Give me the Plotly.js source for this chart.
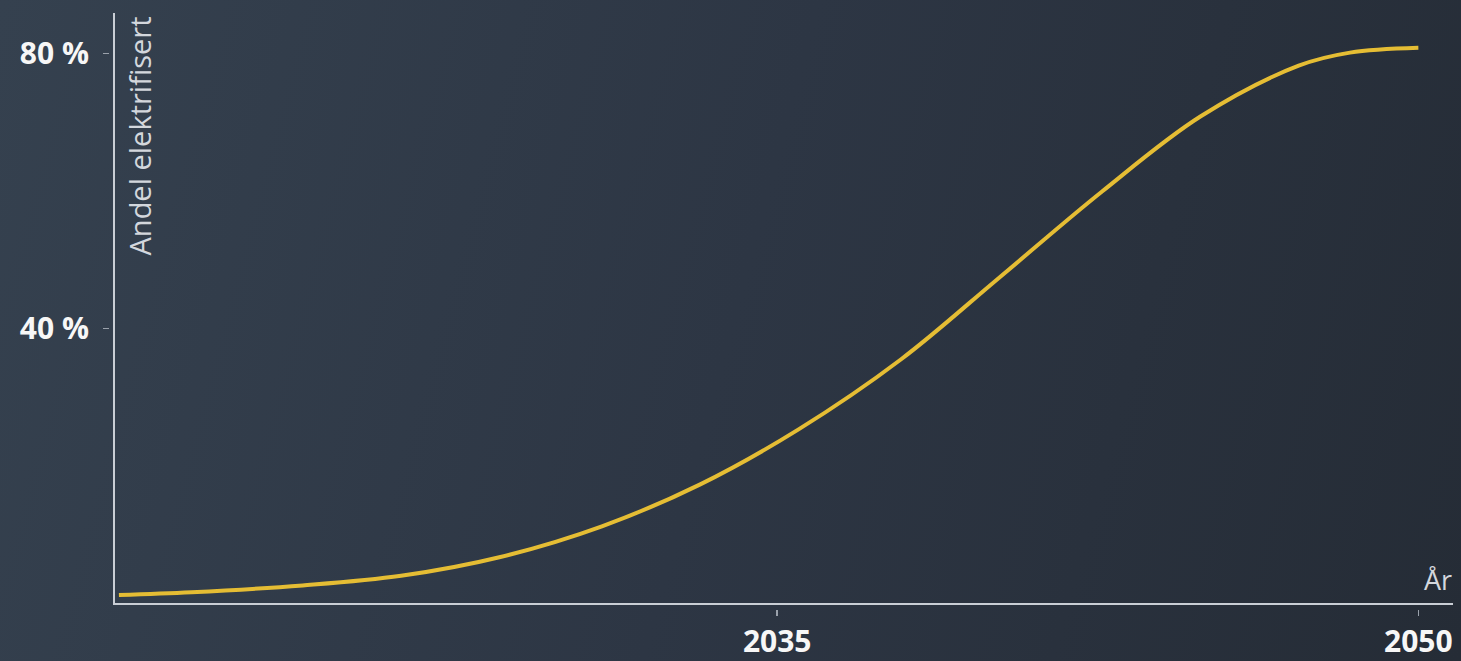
<!DOCTYPE html>
<html>
<head>
<meta charset="utf-8">
<script src="https://cdn.plot.ly/plotly-3.0.1.min.js"></script>
<style>
  html, body { margin: 0; padding: 0; width: 1461px; height: 661px; overflow: hidden;
    background: linear-gradient(105deg, #35414f 0%, #2d3644 50%, #252c36 100%); }
  #chart { width: 1461px; height: 661px; }
</style>
</head>
<body>
<div id="chart"></div>
<script>
// Data
const years = [2019.6, 2021.3, 2023.9, 2026.2, 2028.5, 2030.9, 2033.2, 2035.5, 2037.9, 2040.2, 2042.6, 2044.9, 2047.2, 2048.4, 2050];
const share = [1.2, 1.6, 2.6, 4.0, 6.7, 11.2, 17.3, 25.3, 35.5, 47.4, 59.9, 70.8, 78.2, 80.1, 80.8];
const xTickVals = [2035, 2050];
const xTickText = ['2035', '2050'];
const yTickVals = [40, 80];
const yTickText = ['40 %', '80 %'];
const yTitle = 'Andel elektrifisert';
const xTitle = 'År';

const xRange = [2019.52, 2050.81];
const yRange = [0, 85.86];

const axisColor = '#c9ced5';
const tickColor = '#9aa1ab';
const labelFont = { family: 'Open Sans, sans-serif', size: 30, color: '#f7f7f7', weight: 'bold' };
const titleFont = { family: 'Open Sans, sans-serif', size: 29, color: '#d3d7dd' };

const traces = [
  { x: years, y: share, type: 'scatter', mode: 'lines', xaxis: 'x', yaxis: 'y',
    line: { color: '#e5bd34', width: 4, shape: 'spline', smoothing: 1 },
    hoverinfo: 'skip', showlegend: false },
  { x: years, y: share, type: 'scatter', mode: 'lines', xaxis: 'x2', yaxis: 'y2',
    line: { color: 'rgba(0,0,0,0)', width: 0 }, hoverinfo: 'skip', showlegend: false }
];

const layout = {
  width: 1461, height: 661,
  margin: { l: 108.5, r: 8, t: 13, b: 52 },
  paper_bgcolor: 'rgba(0,0,0,0)',
  plot_bgcolor: 'rgba(0,0,0,0)',
  showlegend: false,
  xaxis: { domain: [0.00483, 1], range: xRange, anchor: 'y', showline: true, linecolor: axisColor,
    linewidth: 2, showgrid: false, zeroline: false, ticks: '', showticklabels: false, fixedrange: true },
  yaxis: { domain: [0.00956, 1], range: yRange, anchor: 'x', showline: true, linecolor: axisColor,
    linewidth: 2, showgrid: false, zeroline: false, ticks: '', showticklabels: false, fixedrange: true },
  xaxis2: { overlaying: 'x', anchor: 'free', position: 0, side: 'bottom', domain: [0.00483, 1], range: xRange,
    showline: false, showgrid: false, zeroline: false, ticks: 'outside', ticklen: 6, tickwidth: 1.5,
    tickcolor: tickColor, tickvals: xTickVals, ticktext: xTickText, tickfont: labelFont,
    ticklabelstandoff: 0, fixedrange: true },
  yaxis2: { overlaying: 'y', anchor: 'free', position: 0, side: 'left', domain: [0.00956, 1], range: yRange,
    showline: false, showgrid: false, zeroline: false, ticks: 'outside', ticklen: 6, tickwidth: 1.5,
    tickcolor: tickColor, tickvals: yTickVals, ticktext: yTickText, tickfont: labelFont,
    ticklabelstandoff: 8, fixedrange: true },
  annotations: [
    { text: yTitle, textangle: -90, xref: 'paper', yref: 'paper', x: 0.00483, y: 1,
      xanchor: 'left', yanchor: 'top', xshift: 3, yshift: -1, showarrow: false, font: titleFont },
    { text: xTitle, xref: 'paper', yref: 'paper', x: 1, y: 0.00956,
      xanchor: 'right', yanchor: 'bottom', xshift: 1, yshift: 3, showarrow: false,
      font: { family: 'Open Sans, sans-serif', size: 27, color: '#d3d7dd' } }
  ]
};

Plotly.newPlot('chart', traces, layout, { displayModeBar: false, staticPlot: true });
</script>
</body>
</html>
